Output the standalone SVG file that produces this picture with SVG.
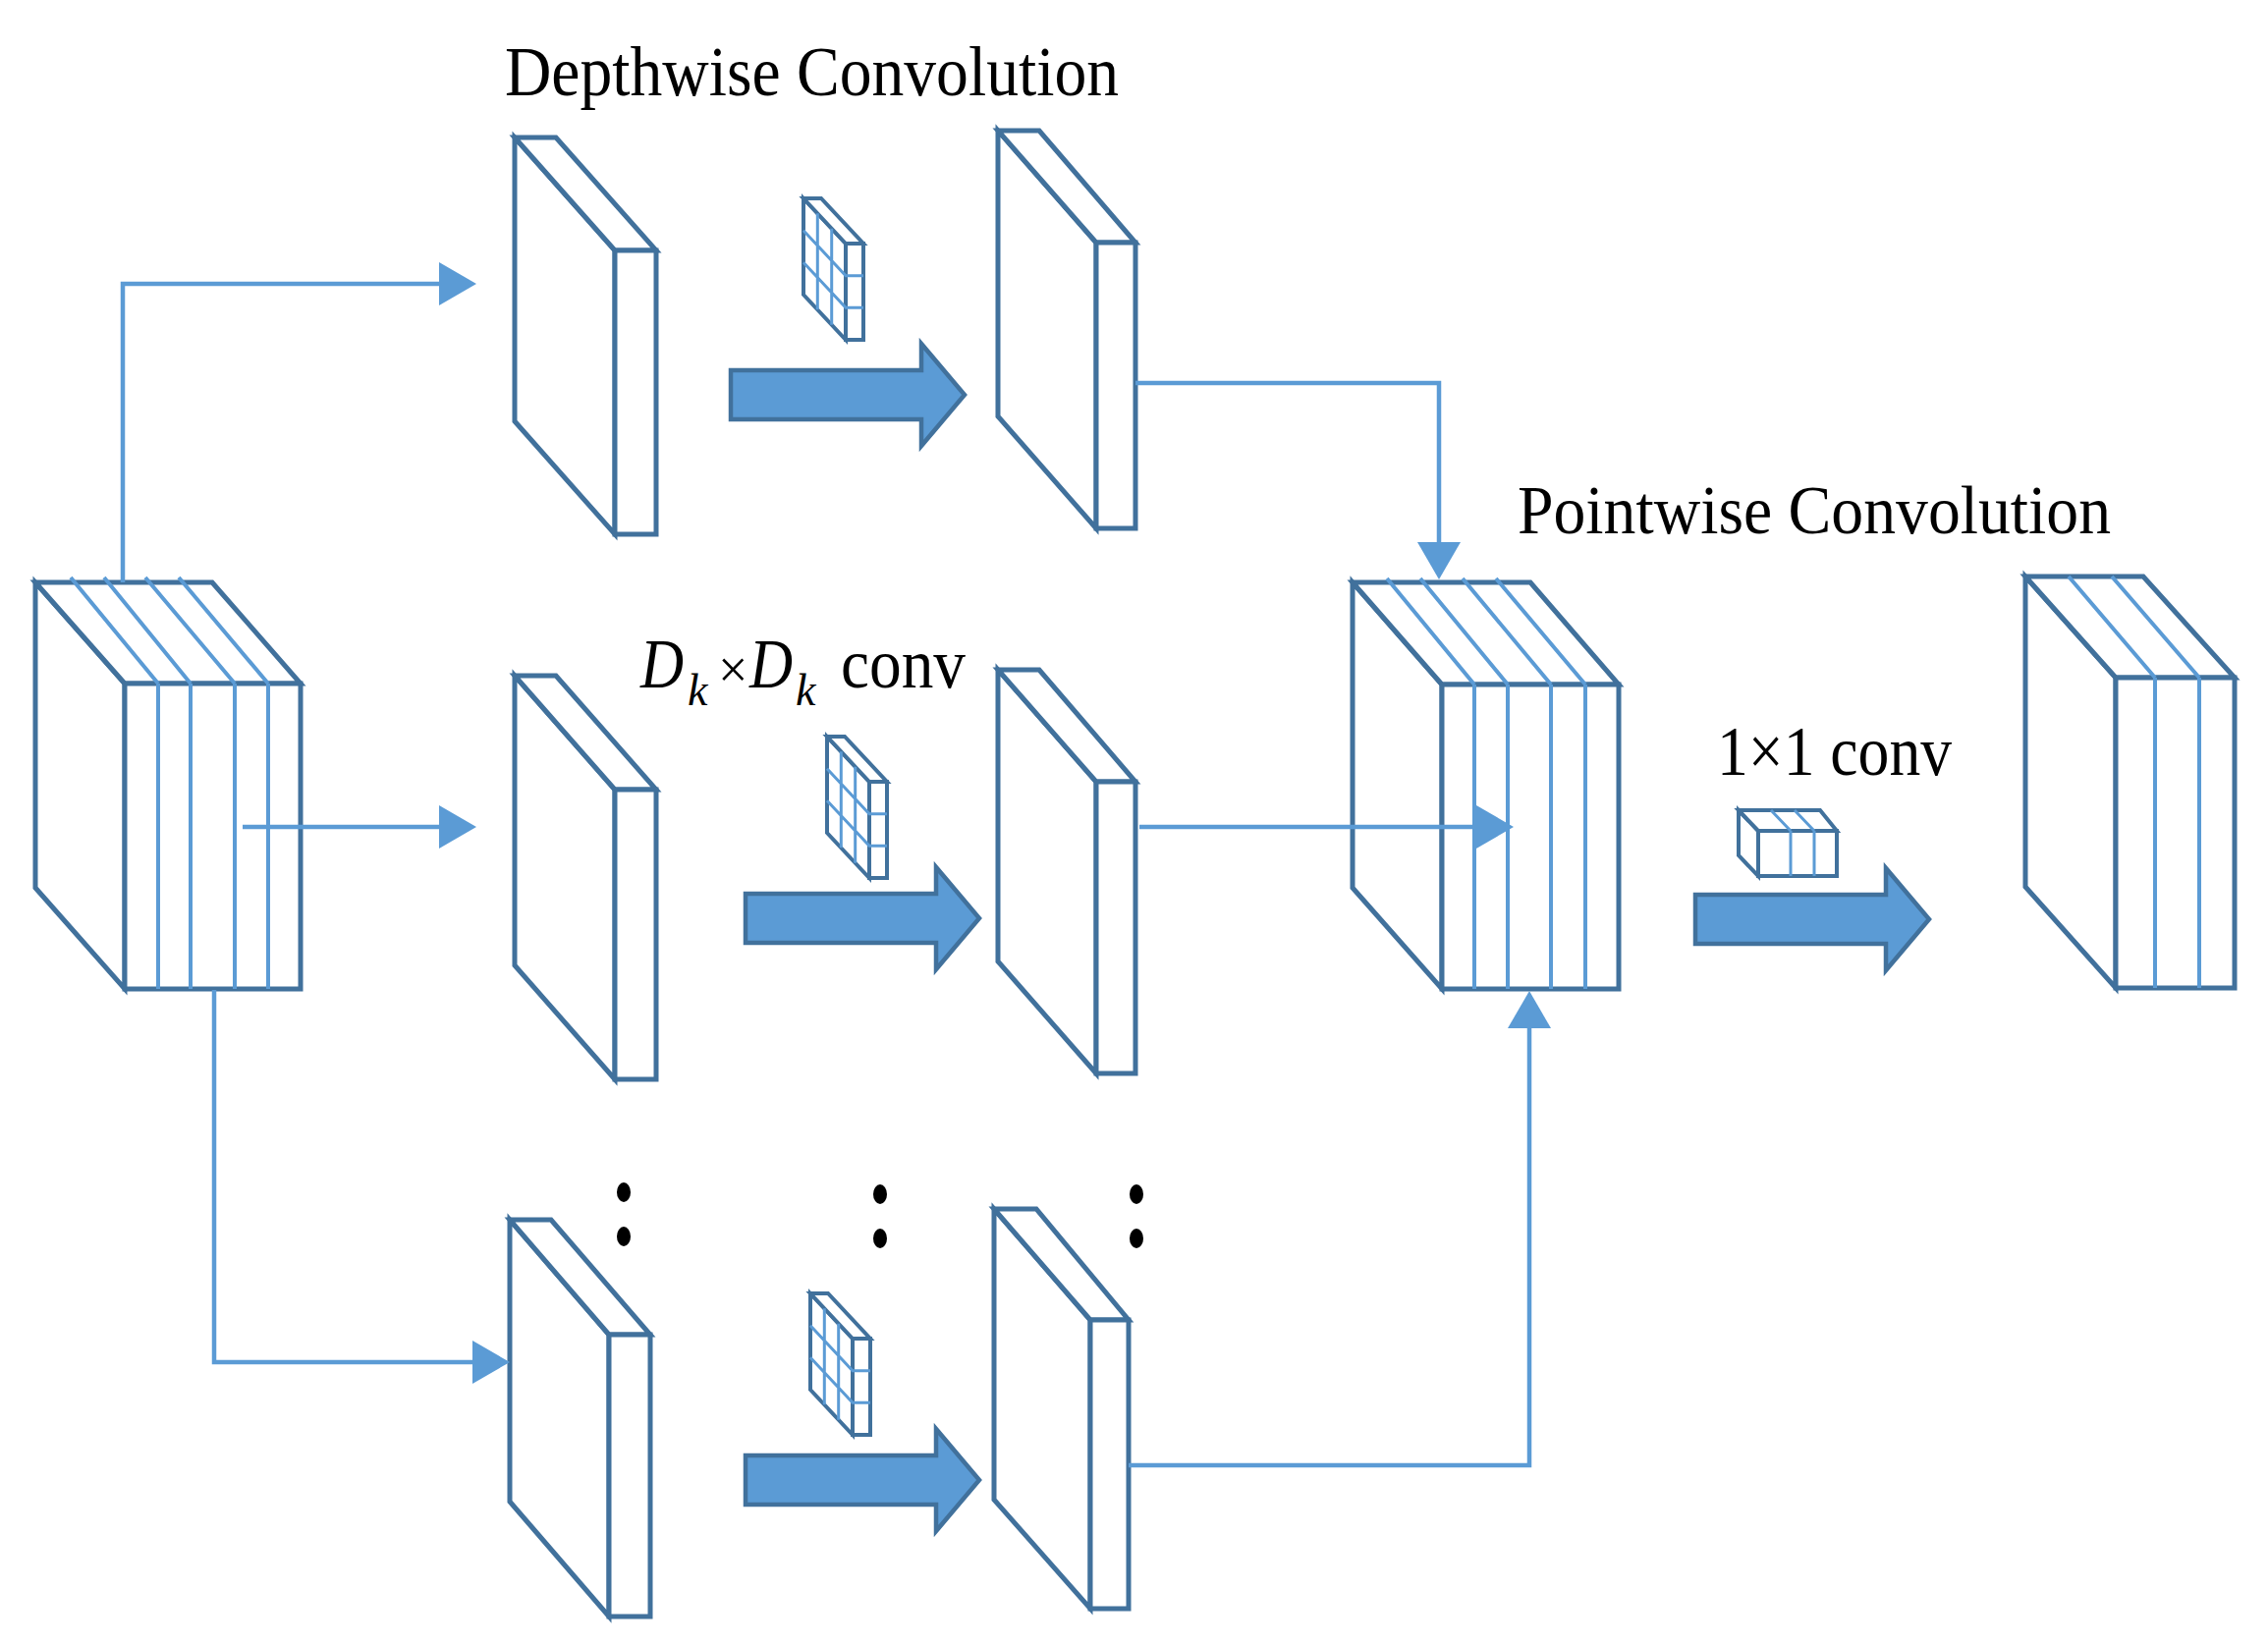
<svg xmlns="http://www.w3.org/2000/svg" xmlns:xlink="http://www.w3.org/1999/xlink" width="2309" height="1675" viewBox="0 0 2309 1675">
<style>
  .face{fill:#ffffff;stroke:#41719C;stroke-width:5;stroke-linejoin:miter}
  .ch{fill:none;stroke:#5B9BD5;stroke-width:4}
  .kface{fill:#ffffff;stroke:#41719C;stroke-width:4}
  .kgrid{fill:none;stroke:#5B9BD5;stroke-width:3}
  .big{fill:#5B9BD5;stroke:#41719C;stroke-width:4.5}
  .conn{fill:none;stroke:#5B9BD5;stroke-width:4.5}
  .lbl{font-family:"Liberation Serif","Times New Roman",serif;fill:#000000}
  .dot{fill:#000000}
</style>
<defs>
  <marker id="ah" markerUnits="userSpaceOnUse" markerWidth="38" markerHeight="44" viewBox="0 0 38 44" refX="0" refY="22" orient="auto">
    <path d="M0 0 L38 22 L0 44 Z" fill="#5B9BD5"/>
  </marker>
  <g id="kernel">
    <path class="kface" d="M0 0 L43 46 L43 144 L0 98 Z"/>
    <path class="kface" d="M0 0 H18 L61 46 H43 Z"/>
    <rect class="kface" x="43" y="46" width="18" height="98"/>
    <path class="kgrid" d="M14.3 15.3 V113.3 M28.7 30.7 V128.7 M0 32.7 L43 78.7 H61 M0 65.3 L43 111.3 H61"/>
  </g>
  <path id="bigarrow" class="big" d="M0 -25 H194 V-52 L238 0 L194 52 V25 H0 Z"/>
</defs>

<g id="input-block">
  <path class="face" d="M36 593 L127 696 L127 1007 L36 904 Z"/>
  <path class="face" d="M36 593 H216 L306 696 H127 Z"/>
  <rect class="face" x="127" y="696" width="179" height="311"/>
  <path class="ch" d="M161 696 V1007 M194 696 V1007 M239 696 V1007 M273 696 V1007 M72 588 L161 696 M106 588 L194 696 M148 588 L239 696 M182 588 L273 696"/>
</g>

<g id="dw-in-1">
  <path class="face" d="M524 140 L626 255 L626 544 L524 429 Z"/>
  <path class="face" d="M524 140 H566 L668 255 H626 Z"/>
  <rect class="face" x="626" y="255" width="42" height="289"/>
</g>
<g id="dw-out-1">
  <path class="face" d="M1016 133 L1116 247 L1116 538 L1016 424 Z"/>
  <path class="face" d="M1016 133 H1058 L1156 247 H1116 Z"/>
  <rect class="face" x="1116" y="247" width="40" height="291"/>
</g>
<g id="dw-in-2">
  <path class="face" d="M524 688 L626 804 L626 1099 L524 983 Z"/>
  <path class="face" d="M524 688 H566 L668 804 H626 Z"/>
  <rect class="face" x="626" y="804" width="42" height="295"/>
</g>
<g id="dw-out-2">
  <path class="face" d="M1016 682 L1116 796 L1116 1093 L1016 979 Z"/>
  <path class="face" d="M1016 682 H1058 L1156 796 H1116 Z"/>
  <rect class="face" x="1116" y="796" width="40" height="297"/>
</g>
<g id="dw-in-3">
  <path class="face" d="M519 1242 L620 1359 L620 1646 L519 1529 Z"/>
  <path class="face" d="M519 1242 H561 L662 1359 H620 Z"/>
  <rect class="face" x="620" y="1359" width="42" height="287"/>
</g>
<g id="dw-out-3">
  <path class="face" d="M1012 1231 L1110 1344 L1110 1638 L1012 1527 Z"/>
  <path class="face" d="M1012 1231 H1055 L1149 1344 H1110 Z"/>
  <rect class="face" x="1110" y="1344" width="39" height="294"/>
</g>

<g id="kernel-1"><use xlink:href="#kernel" href="#kernel" transform="translate(818 202)"/></g>
<g id="kernel-2"><use xlink:href="#kernel" href="#kernel" transform="translate(842 750)"/></g>
<g id="kernel-3"><use xlink:href="#kernel" href="#kernel" transform="translate(825 1317)"/></g>

<g id="dw-arrow-1"><use xlink:href="#bigarrow" href="#bigarrow" transform="translate(744 402)"/></g>
<g id="dw-arrow-2"><use xlink:href="#bigarrow" href="#bigarrow" transform="translate(759 935)"/></g>
<g id="dw-arrow-3"><use xlink:href="#bigarrow" href="#bigarrow" transform="translate(759 1507)"/></g>

<g id="pointwise-block">
  <path class="face" d="M1377 593 L1468 697 L1468 1007 L1377 904 Z"/>
  <path class="face" d="M1377 593 H1558 L1648 697 H1468 Z"/>
  <rect class="face" x="1468" y="697" width="180" height="310"/>
  <path class="ch" d="M1501 697 V1007 M1535 697 V1007 M1579 697 V1007 M1614 697 V1007 M1412 589 L1501 697 M1446 589 L1535 697 M1489 589 L1579 697 M1523 589 L1614 697"/>
</g>

<g id="pw-kernel">
  <path class="kface" d="M1770 825 L1790 846 L1790 892 L1770 871 Z"/>
  <path class="kface" d="M1770 825 H1853 L1870 846 H1790 Z"/>
  <rect class="kface" x="1790" y="846" width="80" height="46"/>
  <path class="kgrid" d="M1823 846 V892 M1847 846 V892 M1803 825 L1823 846 M1827 825 L1847 846"/>
</g>

<g id="pw-arrow"><use xlink:href="#bigarrow" href="#bigarrow" transform="translate(1726 936)"/></g>

<g id="output-block">
  <path class="face" d="M2062 587 L2154 690 L2154 1006 L2062 903 Z"/>
  <path class="face" d="M2062 587 H2182 L2275 690 H2154 Z"/>
  <rect class="face" x="2154" y="690" width="121" height="316"/>
  <path class="ch" d="M2194 690 V1006 M2239 690 V1006 M2106 587 L2194 690 M2150 587 L2239 690"/>
</g>

<g id="dots">
  <ellipse class="dot" cx="635" cy="1214" rx="7" ry="10"/>
  <ellipse class="dot" cx="635" cy="1259" rx="7" ry="10"/>
  <ellipse class="dot" cx="896" cy="1216" rx="7" ry="10"/>
  <ellipse class="dot" cx="896" cy="1261" rx="7" ry="10"/>
  <ellipse class="dot" cx="1157" cy="1216" rx="7" ry="10"/>
  <ellipse class="dot" cx="1157" cy="1261" rx="7" ry="10"/>
</g>

<g id="connectors">
  <path class="conn" d="M125 593 V289 H447" marker-end="url(#ah)"/>
  <path class="conn" d="M247 842 H447" marker-end="url(#ah)"/>
  <path class="conn" d="M218 1008 V1387 H481" marker-end="url(#ah)"/>
  <path class="conn" d="M1156 390 H1465 V552" marker-end="url(#ah)"/>
  <path class="conn" d="M1160 842 H1503" marker-end="url(#ah)"/>
  <path class="conn" d="M1149 1492 H1557 V1047" marker-end="url(#ah)"/>
</g>

<g id="labels">
  <text class="lbl" x="514" y="97" font-size="72" textLength="625" lengthAdjust="spacingAndGlyphs">Depthwise Convolution</text>
  <text class="lbl" x="1545" y="543" font-size="70" textLength="604" lengthAdjust="spacingAndGlyphs">Pointwise Convolution</text>
  <text class="lbl" x="1748" y="789" font-size="72" textLength="239" lengthAdjust="spacingAndGlyphs">1×1 conv</text>
  <text class="lbl" font-size="71"><tspan x="652" y="700" font-style="italic" textLength="44" lengthAdjust="spacingAndGlyphs">D</tspan><tspan x="700" y="718" font-style="italic" font-size="46">k</tspan><tspan x="731" y="700" font-size="54">×</tspan><tspan x="763" y="700" font-style="italic" textLength="44" lengthAdjust="spacingAndGlyphs">D</tspan><tspan x="810" y="718" font-style="italic" font-size="46">k</tspan><tspan x="856" y="700" textLength="127" lengthAdjust="spacingAndGlyphs">conv</tspan></text>
</g>
</svg>
